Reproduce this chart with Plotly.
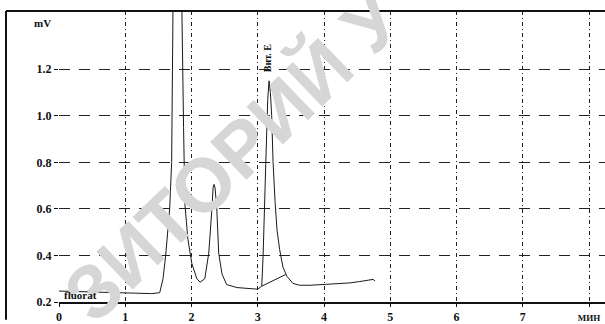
import plotly.graph_objects as go

# chromatogram signal (minutes, mV)
t = [0.0, 0.3, 0.6, 1.0, 1.2, 1.4, 1.52, 1.57, 1.61, 1.645, 1.67, 1.70, 1.72, 1.785, 1.855,
     1.88, 1.90, 1.945, 2.005, 2.08, 2.13, 2.2, 2.26, 2.31, 2.325, 2.34, 2.355, 2.38, 2.41,
     2.46, 2.53, 2.685, 2.88, 3.0, 3.06, 3.08, 3.12, 3.15, 3.17, 3.19, 3.21, 3.23, 3.26, 3.29,
     3.33, 3.38, 3.44, 3.53, 3.63, 3.79, 4.04, 4.24, 4.39, 4.54, 4.66, 4.74, 4.77]
mv = [0.247, 0.245, 0.243, 0.240, 0.237, 0.236, 0.240, 0.30, 0.40, 0.50, 0.60, 0.80, 1.45, 1.85, 1.45,
      0.95, 0.62, 0.47, 0.365, 0.30, 0.285, 0.30, 0.41, 0.61, 0.69, 0.705, 0.69, 0.61, 0.41,
      0.32, 0.275, 0.262, 0.258, 0.255, 0.268, 0.395, 0.79, 1.07, 1.15, 1.10, 1.00, 0.805, 0.636, 0.51,
      0.425, 0.35, 0.31, 0.28, 0.272, 0.272, 0.276, 0.278, 0.282, 0.288, 0.292, 0.297, 0.29]

# integration baseline under the vitamin E peak
base_t = [3.06, 3.42]
base_mv = [0.268, 0.318]

x_ticks = [0, 1, 2, 3, 4, 5, 6, 7, 8]
x_labels = ["0", "1", "2", "3", "4", "5", "6", "7", "<span style='font-size:9px'>МИН</span>"]
y_ticks = [0.2, 0.4, 0.6, 0.8, 1.0, 1.2]
y_labels = ["0.2", "0.4", "0.6", "0.8", "1.0", "1.2"]

W, H = 605, 324
ML, MR, MT, MB = 59, 0, 11, 18
pw = W - ML - MR
ph = H - MT - MB

serif = "Liberation Serif"

fig = go.Figure()
fig.add_trace(go.Scatter(x=t, y=mv, mode="lines",
                         line=dict(color="#1a1a1a", width=1), showlegend=False))
fig.add_trace(go.Scatter(x=base_t, y=base_mv, mode="lines",
                         line=dict(color="#1a1a1a", width=1), showlegend=False))

fig.update_layout(
    width=W, height=H,
    margin=dict(l=ML, r=MR, t=MT, b=MB, pad=0),
    paper_bgcolor="white", plot_bgcolor="white",
    xaxis=dict(range=[0, 8.24], tickvals=x_ticks, ticktext=x_labels,
               showgrid=True, gridcolor="#222", gridwidth=1, griddash="4px,3px,1px,3px",
               zeroline=False, showline=True, linecolor="#111", linewidth=1.5,
               ticks="outside", ticklen=3, tickcolor="#111",
               tickfont=dict(family=serif, size=12, color="#111", weight="bold")),
    yaxis=dict(range=[0.2, 1.45], tickvals=y_ticks, ticktext=y_labels,
               showgrid=True, gridcolor="#222", gridwidth=1, griddash="11px,9px",
               zeroline=False, showline=False,
               ticks="outside", ticklen=4, tickcolor="#111",
               tickfont=dict(family=serif, size=12, color="#111", weight="bold")),
)

# frame lines (top and left border of the recorder sheet)
fig.add_shape(type="line", xref="paper", yref="paper",
              x0=-(ML - 6) / pw, x1=1, y0=1, y1=1, line=dict(color="#111", width=2))
fig.add_shape(type="line", xref="paper", yref="paper",
              x0=-(ML - 6) / pw, x1=-(ML - 6) / pw, y0=1, y1=-MB / ph, line=dict(color="#111", width=2))

# scan watermark (drawn first so the labels stay on top)
fig.add_annotation(xref="paper", yref="paper", x=(232 - ML) / pw, y=1 - (158 - MT) / ph,
                   xanchor="center", yanchor="middle",
                   text="<b>ЗИТОРИЙ У</b>", textangle=-44, showarrow=False,
                   font=dict(family="Liberation Sans", size=76, color="#d6d6d6"))

fig.add_annotation(xref="paper", yref="y", x=-6 / pw, y=1.40, xanchor="right", yanchor="middle",
                   text="<b>mV</b>", showarrow=False, font=dict(family=serif, size=11, color="#111"))
fig.add_annotation(x=0.045, y=0.2, xanchor="left", yanchor="bottom", yshift=-1,
                   text="<b>fluorat</b>", showarrow=False,
                   font=dict(family=serif, size=11, color="#111"))
fig.add_annotation(x=3.15, y=1.25, text="<b>Вит. Е</b>", textangle=-90,
                   xanchor="center", yanchor="middle",
                   showarrow=False, font=dict(family=serif, size=10, color="#111"))

fig.write_html("out.html", config={"displayModeBar": False},
               post_script="document.body.style.margin='0px';")
